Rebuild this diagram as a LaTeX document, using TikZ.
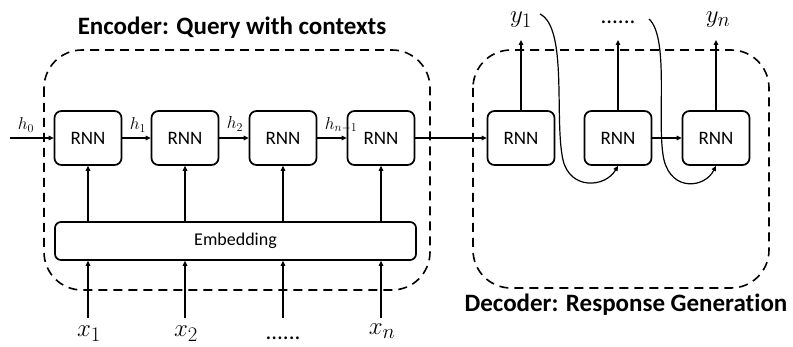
\documentclass[tikz,border=0pt]{standalone}
\usepackage{fontspec}
\setmainfont{Carlito}[Ligatures=NoCommon]
\usetikzlibrary{arrows.meta}
\begin{document}
\begin{tikzpicture}[x=1pt,y=-1pt,
  cell/.style={draw,line width=1.7pt,rounded corners=7pt,minimum width=67pt,minimum height=54pt,font=\fontsize{19}{19}\selectfont,inner sep=0pt},
  group/.style={draw,line width=1.6pt,dash pattern=on 9pt off 6pt,rounded corners=38pt},
  link/.style={line width=1.2pt,-{Triangle[length=5pt,width=4.5pt]}},
  hlab/.style={font=\fontsize{17}{17}\selectfont,inner sep=0pt},
  big/.style={font=\fontsize{28}{28}\selectfont,inner sep=0pt},
  dots/.style={font=\fontsize{23}{23}\selectfont,inner sep=0pt},
  title/.style={font=\fontsize{25}{25}\selectfont\bfseries,inner sep=0pt}]
\useasboundingbox (0,0) rectangle (793,347);

% dashed groups
\draw[group] (44,50) rectangle (430,290);
\draw[group] (473,50) rectangle (769,288);
\node[title] at (232,28) {Encoder: Query with contexts};
\node[title] at (626,305) {Decoder: Response Generation};

% encoder cells
\node[cell] (e1) at (88,138) {RNN};
\node[cell] (e2) at (185,138) {RNN};
\node[cell] (e3) at (283,138) {RNN};
\node[cell] (e4) at (381,138) {RNN};
\node[draw,line width=1.7pt,rounded corners=6pt,minimum width=361pt,minimum height=38pt,inner sep=0pt,font=\fontsize{18}{18}\selectfont] (emb) at (235.5,241) {Embedding};

% decoder cells
\node[cell] (d1) at (521,138) {RNN};
\node[cell] (d2) at (618,138) {RNN};
\node[cell] (d3) at (716,138) {RNN};

% recurrent links
\coordinate (h0s) at (10,138);
\draw[link] (h0s) -- (e1.west);
\draw[link] (e1) -- (e2);
\draw[link] (e2) -- (e3);
\draw[link] (e3) -- (e4);
\draw[link] (e4) -- (d1);
\draw[link] (d2) -- (d3);
\node[hlab] (h0) at (26,125) {$h_0$};
\node[hlab] (h1) at (138,125) {$h_1$};
\node[hlab] (h2) at (235,124) {$h_2$};
\node[hlab] (hn) at (341,125) {$h_{n-1}$};

% embedding to cells
\foreach \i in {1,...,4}
  \draw[link] (emb.north -| e\i) -- (e\i.south);

% inputs
\node[big] (x1) at (89,334) {$x_1$};
\node[big] (x2) at (186,334) {$x_2$};
\node[dots] (xd) at (283,338) {......};
\node[big] (xn) at (382,331) {$x_n$};
\foreach \c/\n in {88/1,185/2,283/3,381/4}{
  \coordinate (xs\n) at (\c,318);
  \draw[link] (xs\n) -- (xs\n |- emb.south);
}

% outputs
\node[big] (y1) at (521,20) {$y_1$};
\node[dots] (yd) at (618,22) {......};
\node[big] (yn) at (718,20) {$y_n$};
\foreach \n in {1,2,3}{
  \coordinate (yt\n) at (d\n.north |- 0,40);
  \draw[link] (d\n.north) -- (yt\n);
}

% feedback of generated words
\coordinate (f1) at (540,14);
\coordinate (f2) at (649,19);
\draw[link] (f1) .. controls (568,28) and (554,120) .. (563,160)
  .. controls (570,190) and (605,188) .. (d2.south);
\draw[link] (f2) .. controls (670,38) and (656,125) .. (664,160)
  .. controls (672,192) and (705,188) .. (d3.south);
\end{tikzpicture}
\end{document}
